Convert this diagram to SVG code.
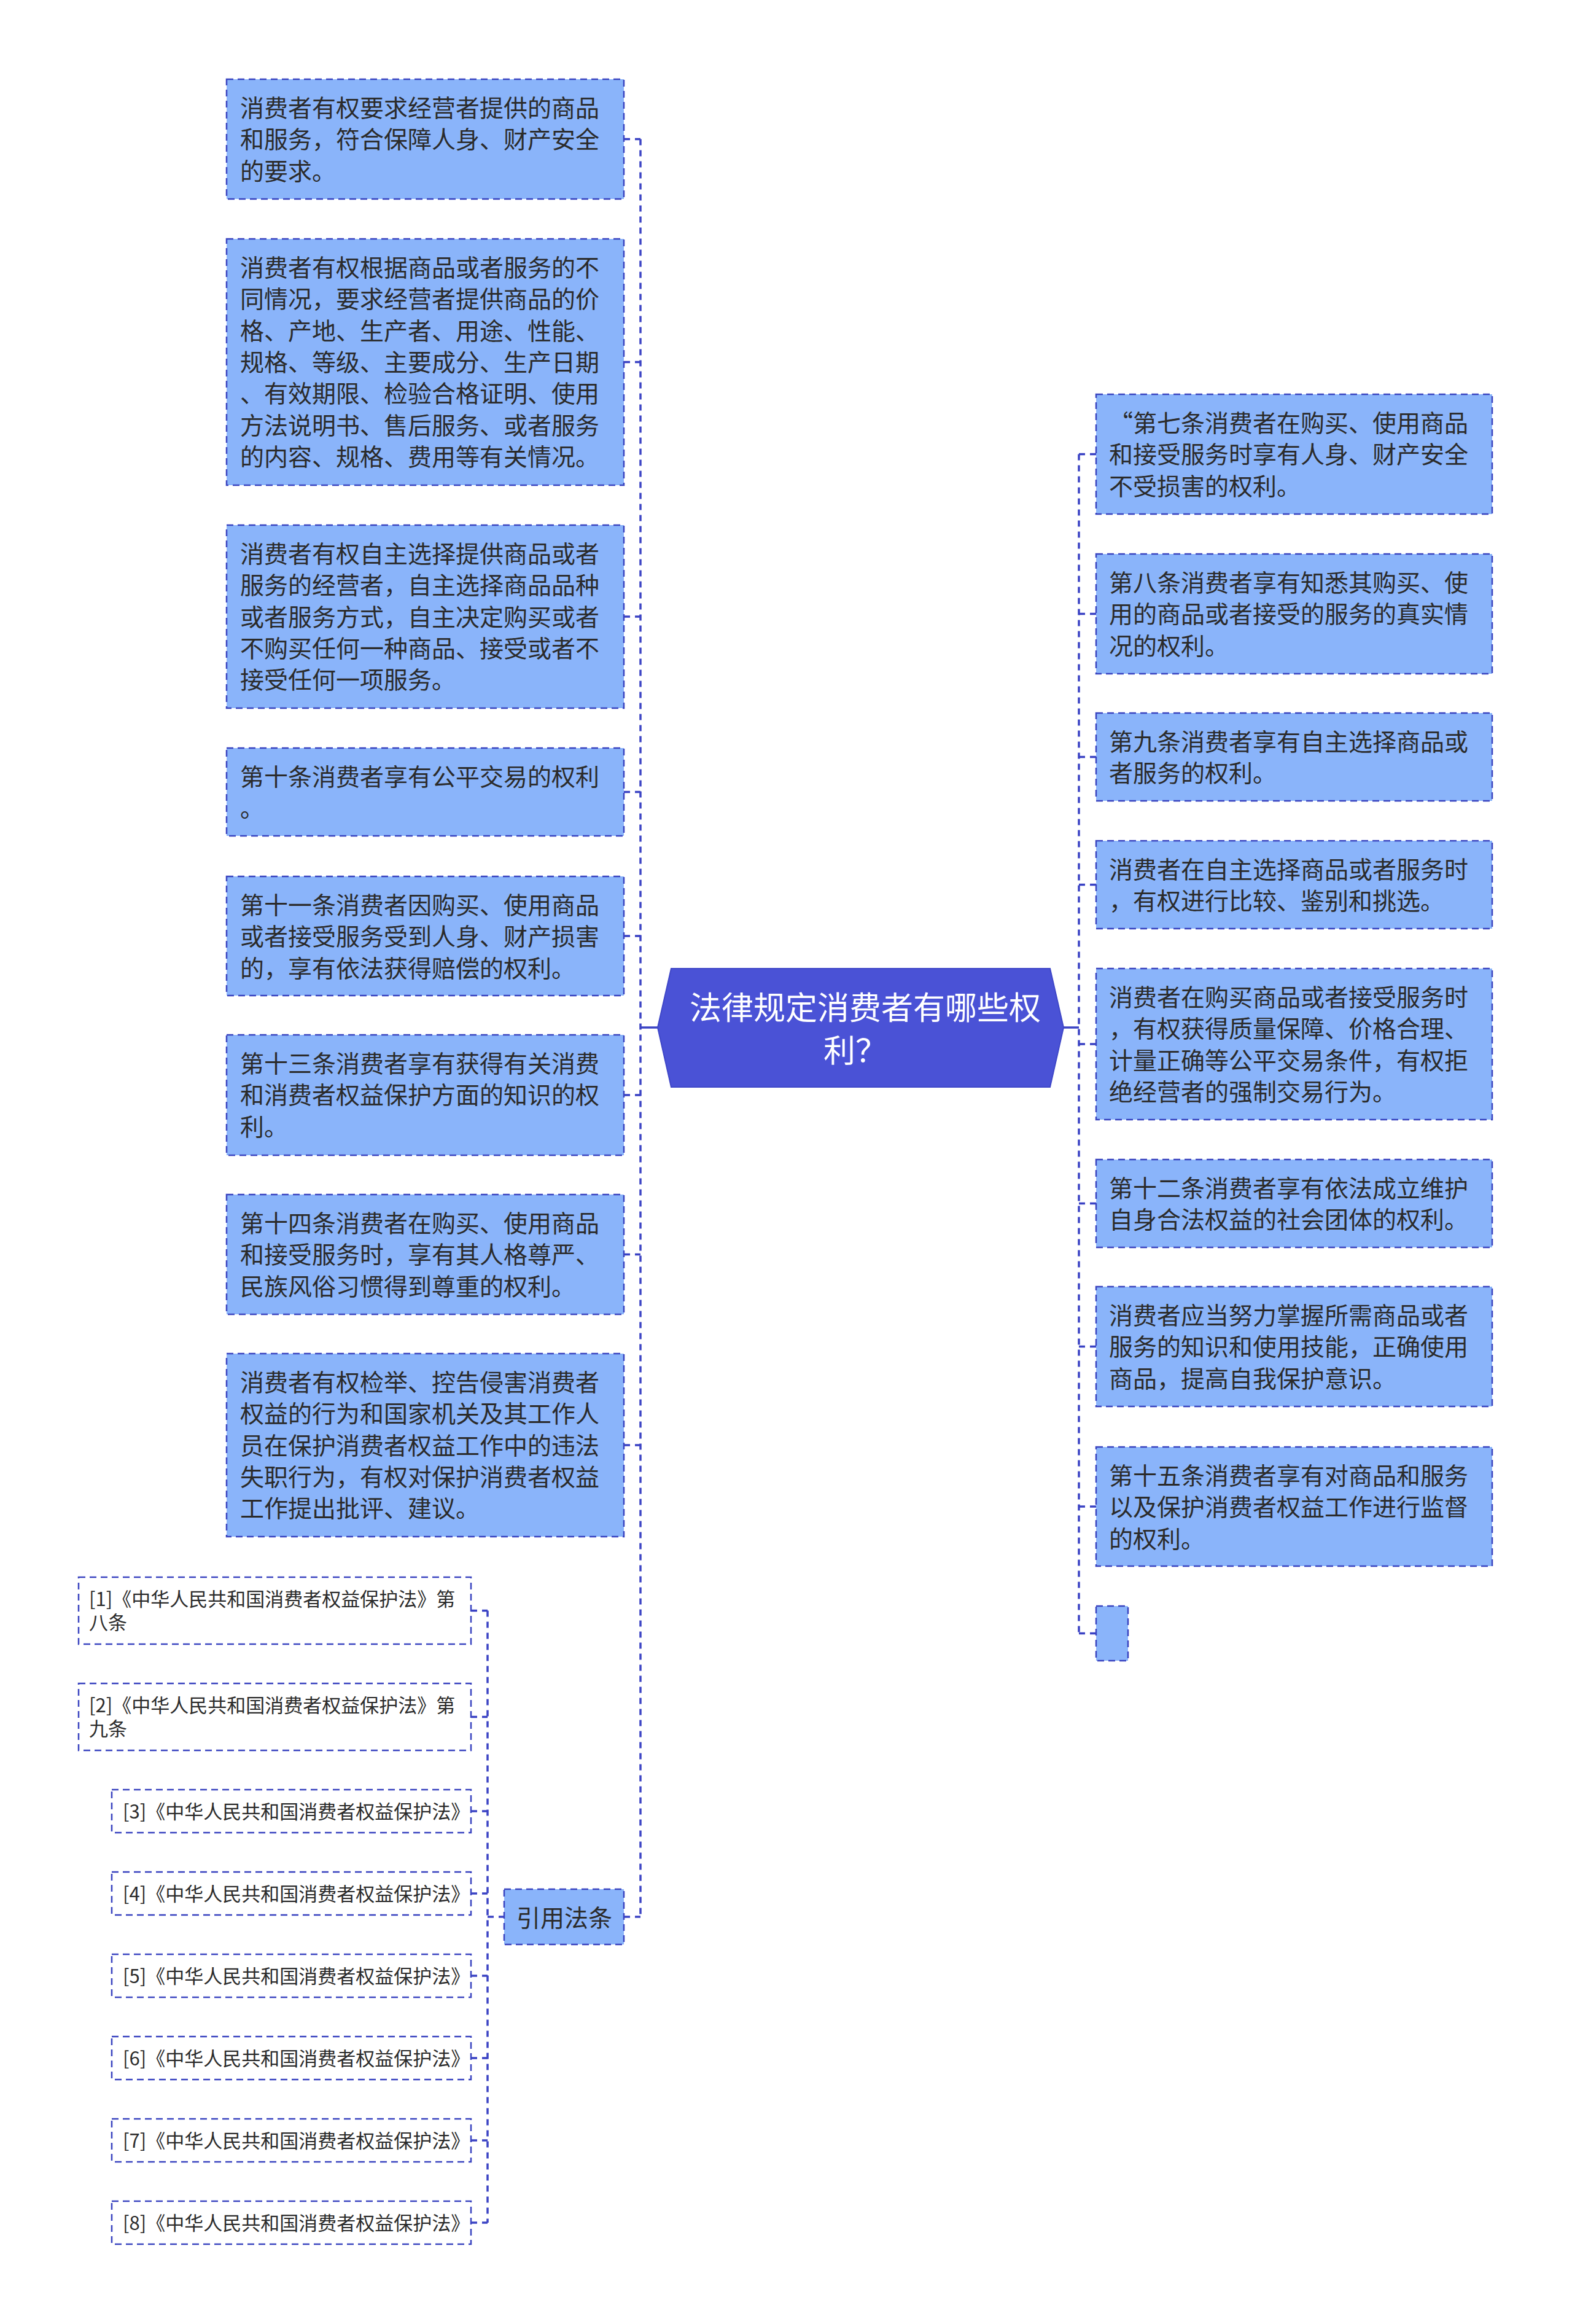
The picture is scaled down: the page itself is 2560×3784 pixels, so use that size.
<svg xmlns="http://www.w3.org/2000/svg" width="2560" height="3784" viewBox="0 0 2560 3784">
<style>
.box{fill:#8AB4FA;stroke:#3A44C0;stroke-width:2.5;stroke-dasharray:11 7}
.ref{fill:#FFFFFF;stroke:#3A44C0;stroke-width:2.5;stroke-dasharray:11 7}
.t{font-family:"Noto Sans CJK SC","Noto Sans",sans-serif;font-size:39px;fill:#2B2B2B}
.rt{font-family:"Noto Sans CJK SC","Noto Sans",sans-serif;font-size:31px;fill:#2B2B2B}
.ct{font-family:"Noto Sans CJK SC","Noto Sans",sans-serif;font-size:52px;fill:#FFFFFF}
.conn{fill:none;stroke:#3A42C4;stroke-width:3.5;stroke-dasharray:10 8}
.solid{fill:none;stroke:#3A42C4;stroke-width:3.5}
</style>
<rect width="2560" height="3784" fill="#FFFFFF"/>
<g id="connectors">
<path class="conn" d="M1043,226.5 V3121"/>
<path class="conn" d="M1016,226.5 H1043 M1016,589.5 H1043 M1016,1004 H1043 M1016,1289.5 H1043 M1016,1524 H1043 M1016,1783 H1043 M1016,2042.5 H1043 M1016,2353 H1043 M1016,3121 H1043"/>
<path class="solid" d="M1043,1673 H1071 M1732,1673 H1757"/>
<path class="conn" d="M1757,739.5 V2659.5"/>
<path class="conn" d="M1757,739.5 H1785 M1757,999.5 H1785 M1757,1232.5 H1785 M1757,1440.5 H1785 M1757,1700 H1785 M1757,1959.5 H1785 M1757,2192.5 H1785 M1757,2453 H1785 M1757,2659.5 H1785"/>
<path class="conn" d="M794,2622.5 V3619"/>
<path class="conn" d="M767,2622.5 H794 M767,2795.5 H794 M767,2949 H794 M767,3083 H794 M767,3217 H794 M767,3351 H794 M767,3485 H794 M767,3619 H794 M794,3121 H821"/>
</g>
<g id="center">
<polygon points="1093,1577 1710,1577 1732,1673 1710,1770 1093,1770 1071,1673" fill="#4A52D6" stroke="#3F47C8" stroke-width="2"/>
<text class="ct"><tspan x="1123" y="1660">法律规定消费者有哪些权</tspan><tspan x="1341" y="1730">利？</tspan></text>
</g>
<g id="L1"><rect class="box" x="369" y="129" width="647" height="195"/>
<text class="t"><tspan x="391" y="190">消费者有权要求经营者提供的商品</tspan><tspan x="391" y="241.3">和服务，符合保障人身、财产安全</tspan><tspan x="391" y="292.6">的要求。</tspan></text></g>
<g id="L2"><rect class="box" x="369" y="389" width="647" height="401"/>
<text class="t"><tspan x="391" y="450">消费者有权根据商品或者服务的不</tspan><tspan x="391" y="501.3">同情况，要求经营者提供商品的价</tspan><tspan x="391" y="552.6">格、产地、生产者、用途、性能、</tspan><tspan x="391" y="603.9">规格、等级、主要成分、生产日期</tspan><tspan x="391" y="655.2">、有效期限、检验合格证明、使用</tspan><tspan x="391" y="706.5">方法说明书、售后服务、或者服务</tspan><tspan x="391" y="757.8">的内容、规格、费用等有关情况。</tspan></text></g>
<g id="L3"><rect class="box" x="369" y="855" width="647" height="298"/>
<text class="t"><tspan x="391" y="916">消费者有权自主选择提供商品或者</tspan><tspan x="391" y="967.3">服务的经营者，自主选择商品品种</tspan><tspan x="391" y="1018.6">或者服务方式，自主决定购买或者</tspan><tspan x="391" y="1069.9">不购买任何一种商品、接受或者不</tspan><tspan x="391" y="1121.2">接受任何一项服务。</tspan></text></g>
<g id="L4"><rect class="box" x="369" y="1218" width="647" height="143"/>
<text class="t"><tspan x="391" y="1279">第十条消费者享有公平交易的权利</tspan><tspan x="391" y="1330.3">。</tspan></text></g>
<g id="L5"><rect class="box" x="369" y="1427" width="647" height="194"/>
<text class="t"><tspan x="391" y="1488">第十一条消费者因购买、使用商品</tspan><tspan x="391" y="1539.3">或者接受服务受到人身、财产损害</tspan><tspan x="391" y="1590.6">的，享有依法获得赔偿的权利。</tspan></text></g>
<g id="L6"><rect class="box" x="369" y="1685" width="647" height="196"/>
<text class="t"><tspan x="391" y="1746">第十三条消费者享有获得有关消费</tspan><tspan x="391" y="1797.3">和消费者权益保护方面的知识的权</tspan><tspan x="391" y="1848.6">利。</tspan></text></g>
<g id="L7"><rect class="box" x="369" y="1945" width="647" height="195"/>
<text class="t"><tspan x="391" y="2006">第十四条消费者在购买、使用商品</tspan><tspan x="391" y="2057.3">和接受服务时，享有其人格尊严、</tspan><tspan x="391" y="2108.6">民族风俗习惯得到尊重的权利。</tspan></text></g>
<g id="L8"><rect class="box" x="369" y="2204" width="647" height="298"/>
<text class="t"><tspan x="391" y="2265">消费者有权检举、控告侵害消费者</tspan><tspan x="391" y="2316.3">权益的行为和国家机关及其工作人</tspan><tspan x="391" y="2367.6">员在保护消费者权益工作中的违法</tspan><tspan x="391" y="2418.9">失职行为，有权对保护消费者权益</tspan><tspan x="391" y="2470.2">工作提出批评、建议。</tspan></text></g>
<g id="cite"><rect class="box" x="821" y="3076" width="195" height="90"/>
<text class="t" x="919" y="3137" text-anchor="middle">引用法条</text></g>
<g id="ref1"><rect class="ref" x="128" y="2568" width="639" height="109"/>
<text class="rt"><tspan x="145" y="2615">[1]《中华人民共和国消费者权益保护法》第</tspan><tspan x="145" y="2653">八条</tspan></text></g>
<g id="ref2"><rect class="ref" x="128" y="2741" width="639" height="109"/>
<text class="rt"><tspan x="145" y="2788">[2]《中华人民共和国消费者权益保护法》第</tspan><tspan x="145" y="2826">九条</tspan></text></g>
<g id="ref3"><rect class="ref" x="182" y="2914" width="585" height="70"/>
<text class="rt" x="200" y="2961">[3]《中华人民共和国消费者权益保护法》</text></g>
<g id="ref4"><rect class="ref" x="182" y="3048" width="585" height="70"/>
<text class="rt" x="200" y="3095">[4]《中华人民共和国消费者权益保护法》</text></g>
<g id="ref5"><rect class="ref" x="182" y="3182" width="585" height="70"/>
<text class="rt" x="200" y="3229">[5]《中华人民共和国消费者权益保护法》</text></g>
<g id="ref6"><rect class="ref" x="182" y="3316" width="585" height="70"/>
<text class="rt" x="200" y="3363">[6]《中华人民共和国消费者权益保护法》</text></g>
<g id="ref7"><rect class="ref" x="182" y="3450" width="585" height="70"/>
<text class="rt" x="200" y="3497">[7]《中华人民共和国消费者权益保护法》</text></g>
<g id="ref8"><rect class="ref" x="182" y="3584" width="585" height="70"/>
<text class="rt" x="200" y="3631">[8]《中华人民共和国消费者权益保护法》</text></g>
<g id="R1"><rect class="box" x="1785" y="642" width="645" height="195"/>
<text class="t"><tspan x="1806" y="703">“第七条消费者在购买、使用商品</tspan><tspan x="1806" y="754.3">和接受服务时享有人身、财产安全</tspan><tspan x="1806" y="805.6">不受损害的权利。</tspan></text></g>
<g id="R2"><rect class="box" x="1785" y="902" width="645" height="195"/>
<text class="t"><tspan x="1806" y="963">第八条消费者享有知悉其购买、使</tspan><tspan x="1806" y="1014.3">用的商品或者接受的服务的真实情</tspan><tspan x="1806" y="1065.6">况的权利。</tspan></text></g>
<g id="R3"><rect class="box" x="1785" y="1161" width="645" height="143"/>
<text class="t"><tspan x="1806" y="1222">第九条消费者享有自主选择商品或</tspan><tspan x="1806" y="1273.3">者服务的权利。</tspan></text></g>
<g id="R4"><rect class="box" x="1785" y="1369" width="645" height="143"/>
<text class="t"><tspan x="1806" y="1430">消费者在自主选择商品或者服务时</tspan><tspan x="1806" y="1481.3">，有权进行比较、鉴别和挑选。</tspan></text></g>
<g id="R5"><rect class="box" x="1785" y="1577" width="645" height="246"/>
<text class="t"><tspan x="1806" y="1638">消费者在购买商品或者接受服务时</tspan><tspan x="1806" y="1689.3">，有权获得质量保障、价格合理、</tspan><tspan x="1806" y="1740.6">计量正确等公平交易条件，有权拒</tspan><tspan x="1806" y="1791.9">绝经营者的强制交易行为。</tspan></text></g>
<g id="R6"><rect class="box" x="1785" y="1888" width="645" height="143"/>
<text class="t"><tspan x="1806" y="1949">第十二条消费者享有依法成立维护</tspan><tspan x="1806" y="2000.3">自身合法权益的社会团体的权利。</tspan></text></g>
<g id="R7"><rect class="box" x="1785" y="2095" width="645" height="195"/>
<text class="t"><tspan x="1806" y="2156">消费者应当努力掌握所需商品或者</tspan><tspan x="1806" y="2207.3">服务的知识和使用技能，正确使用</tspan><tspan x="1806" y="2258.6">商品，提高自我保护意识。</tspan></text></g>
<g id="R8"><rect class="box" x="1785" y="2356" width="645" height="194"/>
<text class="t"><tspan x="1806" y="2417">第十五条消费者享有对商品和服务</tspan><tspan x="1806" y="2468.3">以及保护消费者权益工作进行监督</tspan><tspan x="1806" y="2519.6">的权利。</tspan></text></g>
<g id="R9"><rect class="box" x="1785" y="2615" width="52" height="89"/></g>
</svg>
